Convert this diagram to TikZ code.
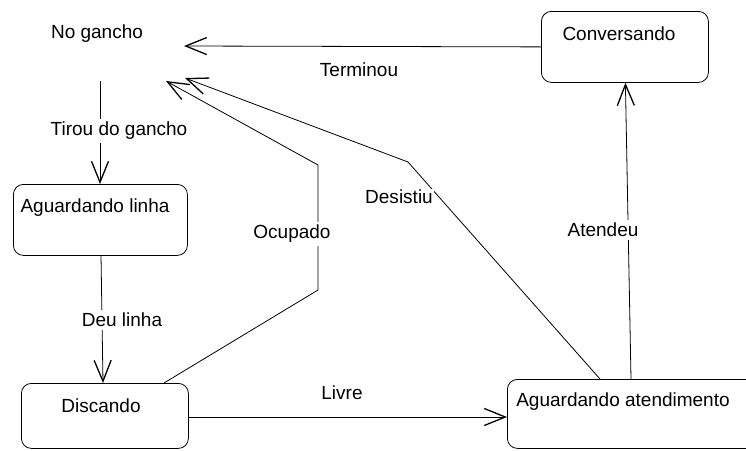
\documentclass[tikz,border=0pt]{standalone}
\usepackage{fontspec}
\setmainfont{Liberation Sans}
\usetikzlibrary{arrows.meta,calc}
\begin{document}
\begin{tikzpicture}[x=1pt,y=-1pt,
  statebox/.style={draw, rounded corners=10pt, line width=0.8pt, inner sep=0pt, anchor=north west},
  txt/.style={font=\fontsize{19}{22}\selectfont, inner sep=0pt},
  lbl/.style={txt, fill=white, inner sep=3pt},
  trans/.style={draw, line width=0.8pt, -{Straight Barb[length=21pt,width=17pt,line width=1.3pt]}}]
\clip (0,0) rectangle (746,450);

% states
\node[txt] (nogancho) at (97,34) {No gancho};
\node[statebox, minimum width=167pt, minimum height=71pt] (conv) at (541,11) {};
\node[txt] (convT) at (619,34) {Conversando};
\node[statebox, minimum width=174pt, minimum height=71pt] (alinha) at (13,184) {};
\node[txt] (alinhaT) at (95,208) {Aguardando linha};
\node[statebox, minimum width=167pt, minimum height=65pt] (disc) at (21,383) {};
\node[txt] (discT) at (101,406) {Discando};
\node[statebox, minimum width=260pt, minimum height=69pt] (aa) at (507,379) {};
\node[txt] (aaT) at (623,402) {Aguardando atendimento};

% free ends near the initial state
\coordinate (endTerm) at (184,46);
\coordinate (startTirou) at (100,81);
\coordinate (endOcup) at (166,81);
\coordinate (endDesist) at (185,78);
\coordinate (bendOcupA) at (318,290);
\coordinate (bendOcupB) at (318,165);
\coordinate (bendDesist) at (408,162);

% transitions
\draw[trans] (conv.west) -- (endTerm);
\draw[trans] (startTirou) -- (100,184);
\draw[trans] (101,255) -- (103,383);
\draw[trans] ($(disc.north west)+(143,0)$) -- (bendOcupA) -- (bendOcupB) -- (endOcup);
\draw[trans] ($(aa.north west)+(93,0)$) -- (bendDesist) -- (endDesist);
\draw[trans] ($(aa.north west)+(124,0)$) -- ($(conv.south)+(0.5,0)$);
\draw[trans] (disc.east |- 0,417) -- (aa.west |- 0,417);

% transition labels
\node[txt] (lTerm) at (359,70) {Terminou};
\node[lbl] (lTirou) at (119,131) {Tirou do gancho};
\node[lbl] (lDeu) at (122,320) {Deu linha};
\node[lbl] (lOcup) at (292,234) {Ocupado};
\node[lbl, inner sep=1pt] (lDesist) at (399,197) {Desistiu};
\node[lbl] (lAtend) at (603,230) {Atendeu};
\node[txt] (lLivre) at (342,393) {Livre};
\end{tikzpicture}
\end{document}
